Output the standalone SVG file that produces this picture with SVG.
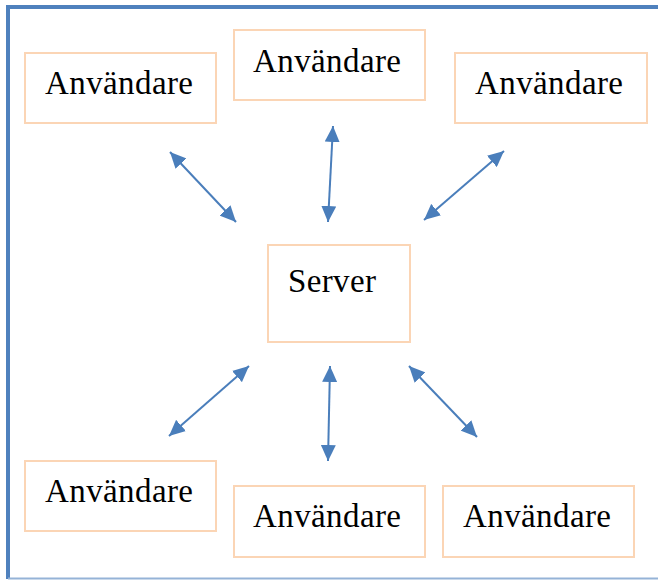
<svg xmlns="http://www.w3.org/2000/svg" width="658" height="581" viewBox="0 0 658 581">
<style>
.box{fill:#fff;stroke:#FBD5B5;stroke-width:2}
.t{font-family:"Liberation Serif","Times New Roman",serif;font-size:33px;fill:#000}
.c{stroke:#4A7EBB;stroke-width:2;fill:none;marker-start:url(#ah);marker-end:url(#ah)}
</style>
<defs>
<marker id="ah" viewBox="0 0 16 15" refX="16" refY="7.5" markerWidth="16" markerHeight="15" markerUnits="userSpaceOnUse" orient="auto-start-reverse">
<path d="M0,0 L16,7.5 L0,15 z" fill="#4A7EBB"/>
</marker>
</defs>
<rect width="658" height="581" fill="#fff"/>
<g id="frame">
<path d="M8,579 L8,7 L662,7" fill="none" stroke="#4F81BD" stroke-width="4"/>
<line x1="8" y1="578.5" x2="658" y2="578.5" stroke="#95B3D7" stroke-width="2"/>
</g>
<g id="connectors">
<line class="c" x1="170" y1="152" x2="236" y2="222"/>
<line class="c" x1="333" y1="126" x2="328" y2="222"/>
<line class="c" x1="504" y1="151" x2="424" y2="220"/>
<line class="c" x1="249" y1="366" x2="169" y2="436"/>
<line class="c" x1="330" y1="366" x2="328" y2="461"/>
<line class="c" x1="409" y1="366" x2="477" y2="437"/>
</g>
<g id="user1"><rect class="box" x="25" y="53" width="191" height="70"/><text class="t" x="45" y="94" textLength="148">Användare</text></g>
<g id="user2"><rect class="box" x="234" y="30" width="191" height="70"/><text class="t" x="253" y="72" textLength="148">Användare</text></g>
<g id="user3"><rect class="box" x="455" y="53" width="192" height="70"/><text class="t" x="475" y="94" textLength="148">Användare</text></g>
<g id="server"><rect class="box" x="268" y="245" width="142" height="97"/><text class="t" x="288" y="292" textLength="88">Server</text></g>
<g id="user4"><rect class="box" x="25" y="461" width="191" height="70"/><text class="t" x="45" y="502" textLength="148">Användare</text></g>
<g id="user5"><rect class="box" x="234" y="486" width="191" height="71"/><text class="t" x="253" y="527" textLength="148">Användare</text></g>
<g id="user6"><rect class="box" x="443" y="486" width="191" height="71"/><text class="t" x="463" y="527" textLength="148">Användare</text></g>
</svg>
